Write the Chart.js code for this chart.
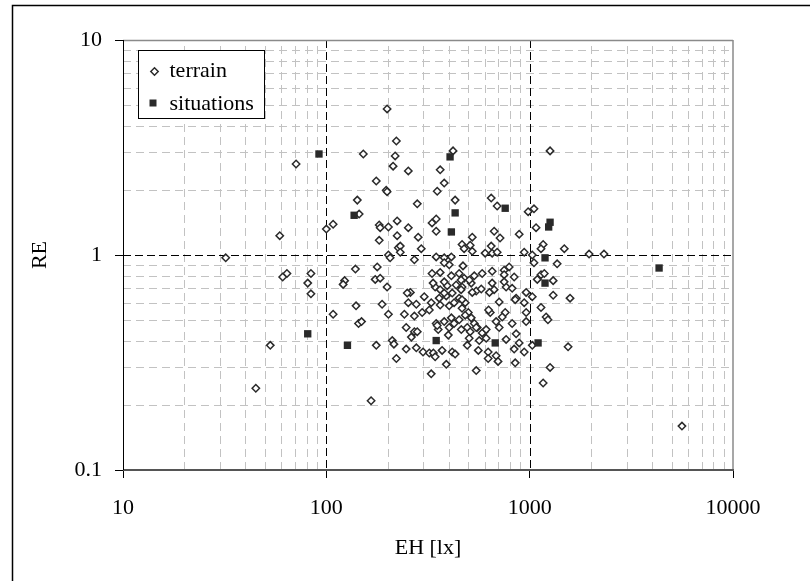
<!DOCTYPE html>
<html>
<head>
<meta charset="utf-8">
<title>RE vs EH</title>
<script src="https://cdn.jsdelivr.net/npm/chart.js@4/dist/chart.umd.min.js"></script>
<style>
  html, body { margin: 0; padding: 0; background: #fff; }
  canvas { display: block; }
</style>
</head>
<body>
<canvas id="chart" width="810" height="581"></canvas>
<script>
// -------------------------------
// Data
// -------------------------------
const xTicks = [10, 100, 1000, 10000];
const yTicks = [0.1, 1, 10];

const terrainEH = [
  // below 250 lx
  199, 221, 152, 218, 213, 71, 176, 197, 199, 142,
  145, 100, 108, 182, 184, 202, 223, 59, 182, 223,
  226, 202, 206, 32, 64, 61, 84, 81, 84, 139,
  123, 121, 178, 174, 184, 199, 140, 108, 188, 202,
  144, 149, 53, 176, 211, 215, 221, 45, 166,
  // RE above 1
  231, 253, 280, 253, 283, 293, 351, 363, 380, 420,
  430, 331, 347, 347, 465, 476, 510, 522, 647, 692,
  669, 715, 647, 888, 983, 1050, 1075, 1165, 1137, 1480,
  1260,
  // around RE = 1
  231, 271, 347, 380, 412, 402, 380, 470, 331, 363,
  412, 450, 476, 534, 584, 654, 604, 654, 692, 522,
  940, 1030, 1050, 1365, 1960, 2320, 749, 793, 749, 839,
  1137, 1180, 1090,
  // main cloud
  259, 303, 253, 277, 328, 242, 271, 296, 321, 343,
  363, 393, 435, 465, 516, 546, 578, 359, 389, 416,
  450, 482, 363, 402, 465, 499, 516, 482, 669, 708,
  766, 820, 858, 961, 940, 1030, 961, 961, 1137, 1205,
  1230, 1305, 1580, 640, 628, 758, 733, 684, 820, 708,
  534, 552, 598, 504, 565, 611, 766, 858, 888, 1030,
  839, 940, 1545, 493, 559, 625, 625, 684, 699, 849,
  546, 389, 328, 1260, 1165, 5610, 247, 277, 299, 321,
  336, 343, 371, 247, 262, 271, 347, 355, 398, 402,
  425, 416, 430, 461, 493, 584, 634, 522, 425, 412,
  450, 510, 611, 280, 849, 380, 460, 505, 749, 1305,
  654, 335, 250, 460, 380, 351, 380, 546, 465
];
const terrainRE = [
  4.78, 3.39, 2.95, 2.89, 2.59, 2.65, 2.21, 2.0, 1.97, 1.80,
  1.55, 1.32, 1.39, 1.38, 1.34, 1.35, 1.44, 1.23, 1.17, 1.23,
  1.08, 1.0, 0.97, 0.97, 0.82, 0.79, 0.82, 0.74, 0.66, 0.86,
  0.76, 0.73, 0.88, 0.77, 0.78, 0.71, 0.58, 0.53, 0.59, 0.53,
  0.48, 0.49, 0.38, 0.38, 0.40, 0.385, 0.33, 0.24, 0.21,

  1.10, 2.46, 1.73, 1.34, 1.21, 1.07, 1.98, 2.49, 2.16, 3.05,
  1.80, 1.41, 1.47, 1.29, 1.12, 1.07, 1.11, 1.21, 1.84, 1.69,
  1.29, 1.20, 1.10, 1.25, 1.59, 1.64, 1.34, 1.12, 1.07, 1.07,
  3.05,

  1.03, 0.95, 0.98, 0.97, 0.98, 0.90, 0.92, 0.89, 0.82, 0.83,
  0.80, 0.82, 0.78, 0.80, 0.82, 0.84, 1.02, 1.02, 1.03, 1.04,
  1.03, 1.0, 0.92, 0.91, 1.01, 1.01, 0.85, 0.88, 0.81, 0.79,
  0.81, 0.82, 0.77,

  0.67, 0.64, 0.60, 0.59, 0.60, 0.53, 0.52, 0.54, 0.555, 0.71,
  0.69, 0.72, 0.725, 0.71, 0.74, 0.68, 0.695, 0.63, 0.645, 0.665,
  0.63, 0.60, 0.585, 0.58, 0.565, 0.54, 0.51, 0.525, 0.69, 0.605,
  0.71, 0.70, 0.63, 0.67, 0.60, 0.64, 0.54, 0.49, 0.57, 0.515,
  0.50, 0.65, 0.63, 0.54, 0.555, 0.54, 0.515, 0.49, 0.48, 0.46,
  0.48, 0.46, 0.44, 0.41, 0.40, 0.41, 0.405, 0.43, 0.39, 0.38,
  0.365, 0.354, 0.374, 0.38, 0.36, 0.354, 0.33, 0.34, 0.32, 0.315,
  0.29, 0.31, 0.28, 0.30, 0.254, 0.16, 0.365, 0.37, 0.354, 0.35,
  0.35, 0.336, 0.36, 0.46, 0.415, 0.44, 0.48, 0.45, 0.424, 0.46,
  0.48, 0.354, 0.346, 0.45, 0.46, 0.434, 0.67, 0.67, 0.60, 0.51,
  0.50, 0.44, 0.45, 0.44, 0.62, 0.75, 0.765, 0.765, 0.75, 0.76,
  0.74, 0.74, 0.665, 0.69, 0.665, 0.47, 0.49, 0.46, 0.62
];

const situationsEH = [92, 137, 406, 430, 412, 758, 1260, 1240, 1190, 1190, 4330, 81, 127, 347, 677, 1100];
const situationsRE = [2.95, 1.53, 2.86, 1.57, 1.28, 1.65, 1.42, 1.35, 0.97, 0.74, 0.87, 0.43, 0.38, 0.40, 0.39, 0.39];

const seriesNames = ["terrain", "situations"];

// -------------------------------
// Styling helpers
// -------------------------------
const serif = '"Liberation Serif", "Times New Roman", serif';
const markColor = "#2a2a2a";

function toPoints(xs, ys) {
  return xs.map((x, i) => ({ x: x, y: ys[i] }));
}

// 2..9 times every power of ten between min and max
function minorSteps(min, max) {
  const out = [];
  for (let p = Math.floor(Math.log10(min)); p < Math.round(Math.log10(max)); p++) {
    for (let k = 2; k <= 9; k++) out.push(k * Math.pow(10, p));
  }
  return out;
}

function strokeLine(ctx, x1, y1, x2, y2) {
  ctx.beginPath();
  ctx.moveTo(x1, y1);
  ctx.lineTo(x2, y2);
  ctx.stroke();
}

function diamond(ctx, x, y, r) {
  ctx.beginPath();
  ctx.moveTo(x - r, y);
  ctx.lineTo(x, y - r);
  ctx.lineTo(x + r, y);
  ctx.lineTo(x, y + r);
  ctx.closePath();
  ctx.fillStyle = "#fff";
  ctx.fill();
  ctx.lineWidth = 1.5;
  ctx.strokeStyle = markColor;
  ctx.stroke();
}

// -------------------------------
// Frame, grid and legend plugin
// -------------------------------
const excelLook = {
  id: "excelLook",
  beforeDraw(chart) {
    const ctx = chart.ctx;
    ctx.save();
    ctx.fillStyle = "#fff";
    ctx.fillRect(0, 0, chart.width, chart.height);
    // outer figure frame (runs past the image edge)
    ctx.strokeStyle = "#000";
    ctx.lineWidth = 1.5;
    ctx.strokeRect(12.5, 5.5, chart.width + 20, chart.height + 20);
    ctx.restore();
  },
  beforeDatasetsDraw(chart) {
    const { ctx, chartArea: a } = chart;
    const xs = chart.scales.x;
    const ys = chart.scales.y;
    ctx.save();
    ctx.lineWidth = 1;

    // minor grid
    ctx.strokeStyle = "#c2c2c2";
    ctx.setLineDash([8, 5]);
    minorSteps(xs.min, xs.max).forEach((v) => {
      const px = Math.round(xs.getPixelForValue(v)) + 0.5;
      strokeLine(ctx, px, a.bottom, px, a.top);
    });
    minorSteps(ys.min, ys.max).forEach((v) => {
      const py = Math.round(ys.getPixelForValue(v)) + 0.5;
      strokeLine(ctx, a.left, py, a.right, py);
    });

    // major grid
    ctx.strokeStyle = "#000";
    ctx.setLineDash([8, 4]);
    xTicks.slice(1, -1).forEach((v) => {
      const px = Math.round(xs.getPixelForValue(v)) + 0.5;
      strokeLine(ctx, px, a.top, px, a.bottom);
    });
    yTicks.slice(1, -1).forEach((v) => {
      const py = Math.round(ys.getPixelForValue(v)) + 0.5;
      strokeLine(ctx, a.left, py, a.right, py);
    });
    ctx.restore();
  },
  afterDatasetsDraw(chart) {
    const { ctx, chartArea: a } = chart;
    ctx.save();
    ctx.setLineDash([]);
    // top and right plot border
    ctx.strokeStyle = "#8a8a8a";
    ctx.lineWidth = 1.5;
    strokeLine(ctx, a.left, a.top + 0.5, a.right, a.top + 0.5);
    strokeLine(ctx, a.right, a.top, a.right, a.bottom);
    // bottom axis
    ctx.strokeStyle = "#555";
    ctx.lineWidth = 2;
    strokeLine(ctx, a.left, a.bottom, a.right + 1, a.bottom);
    // left axis
    ctx.strokeStyle = "#000";
    ctx.lineWidth = 1;
    strokeLine(ctx, a.left + 0.5, a.top, a.left + 0.5, a.bottom);
    ctx.restore();
  },
  afterDraw(chart) {
    const { ctx, chartArea: a } = chart;
    const bx = a.left + 15.5;
    const by = a.top + 10.5;
    ctx.save();
    ctx.fillStyle = "#fff";
    ctx.fillRect(bx, by, 126, 68);
    ctx.strokeStyle = "#000";
    ctx.lineWidth = 1;
    ctx.strokeRect(bx, by, 126, 68);

    diamond(ctx, bx + 16, by + 21, 3.7);
    ctx.fillStyle = markColor;
    ctx.fillRect(bx + 11, by + 49, 7, 7);

    ctx.fillStyle = "#000";
    ctx.font = "22px " + serif;
    ctx.textBaseline = "middle";
    ctx.textAlign = "left";
    ctx.fillText(seriesNames[0], bx + 31, by + 21);
    ctx.fillText(seriesNames[1], bx + 31, by + 54);
    ctx.restore();
  },
};

// -------------------------------
// Chart
// -------------------------------
const tickFont = { family: serif, size: 22 };

new Chart(document.getElementById("chart"), {
  type: "scatter",
  data: {
    datasets: [
      {
        label: seriesNames[1],
        data: toPoints(situationsEH, situationsRE),
        pointStyle: "rect",
        pointRadius: 5.2,
        backgroundColor: markColor,
        borderColor: markColor,
        borderWidth: 0,
        order: 0,
      },
      {
        label: seriesNames[0],
        data: toPoints(terrainEH, terrainRE),
        pointStyle: "rectRot",
        pointRadius: 3.7,
        backgroundColor: "#fff",
        borderColor: markColor,
        borderWidth: 1.5,
        order: 1,
      },
    ],
  },
  options: {
    responsive: false,
    animation: false,
    devicePixelRatio: 1,
    layout: { padding: { top: 40, right: 77, bottom: 0, left: 0 } },
    plugins: {
      legend: { display: false },
      tooltip: { enabled: false },
    },
    scales: {
      x: {
        type: "logarithmic",
        min: 10,
        max: 10000,
        afterBuildTicks: (scale) => {
          scale.ticks = xTicks.map((v) => ({ value: v }));
        },
        afterFit: (scale) => {
          scale.height = 111;
        },
        ticks: {
          autoSkip: false,
          maxRotation: 0,
          padding: 17,
          color: "#000",
          font: tickFont,
          callback: (v) => String(v),
        },
        grid: {
          drawOnChartArea: false,
          drawTicks: true,
          tickLength: 8,
          tickColor: "#000",
        },
        border: { display: false },
        title: {
          display: true,
          text: "EH [lx]",
          color: "#000",
          font: tickFont,
          padding: { top: 0, bottom: 20 },
        },
      },
      y: {
        type: "logarithmic",
        min: 0.1,
        max: 10,
        afterBuildTicks: (scale) => {
          scale.ticks = yTicks.map((v) => ({ value: v }));
        },
        afterFit: (scale) => {
          scale.width = 123;
        },
        ticks: {
          autoSkip: false,
          padding: 13,
          color: "#000",
          font: tickFont,
          callback: (v) => String(v),
        },
        grid: {
          drawOnChartArea: false,
          drawTicks: true,
          tickLength: 8,
          tickColor: "#000",
        },
        border: { display: false },
        title: {
          display: true,
          text: "RE",
          color: "#000",
          font: tickFont,
          padding: { top: 27, bottom: 0 },
        },
      },
    },
  },
  plugins: [excelLook],
});
</script>
</body>
</html>
